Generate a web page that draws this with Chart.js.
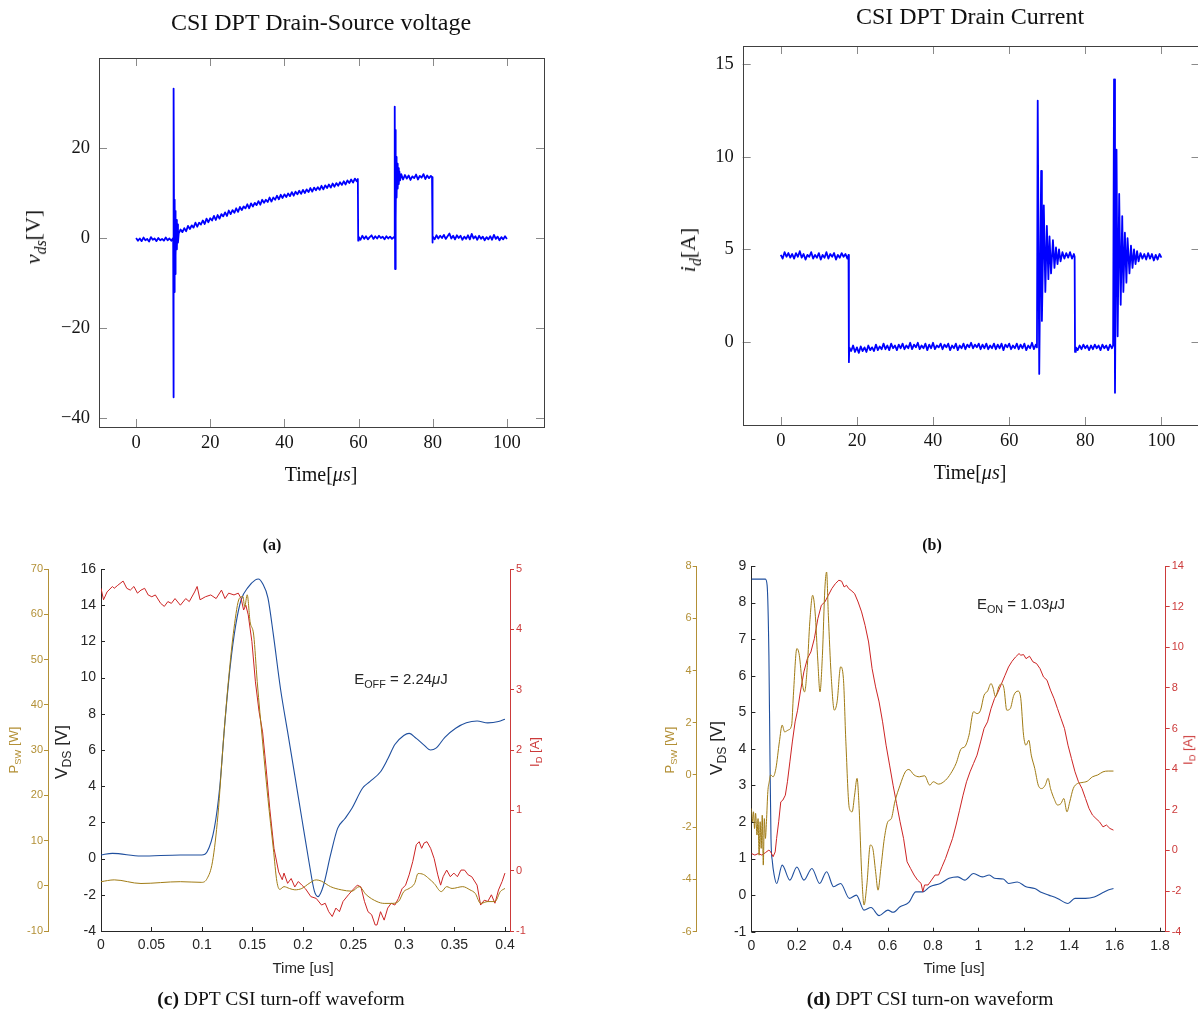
<!DOCTYPE html>
<html>
<head>
<meta charset="utf-8">
<title>CSI DPT waveforms</title>
<script src="https://cdn.jsdelivr.net/npm/chart.js@4.4.1/dist/chart.umd.min.js"></script>
<style>
  body { margin: 0; width: 1198px; height: 1012px; overflow: hidden; background: #fff; position: relative; }
  canvas { position: absolute; }
  .lbl { position: absolute; white-space: nowrap; line-height: 1; transform: translate(-50%, -50%); }
  .rot { transform: translate(-50%, -50%) rotate(-90deg); }
  .serif { font-family: 'Liberation Serif', 'Times New Roman', serif; color: #111; }
  .sans { font-family: 'Liberation Sans', Arial, sans-serif; color: #262626; }
  sub { font-size: 72%; vertical-align: baseline; position: relative; top: 0.35em; }
</style>
</head>
<body>
<canvas id="chartA" width="600" height="470" style="left:0;top:0"></canvas>
<canvas id="chartB" width="612" height="470" style="left:600px;top:0"></canvas>
<canvas id="chartC" width="600" height="440" style="left:0;top:540px"></canvas>
<canvas id="chartD" width="598" height="440" style="left:600px;top:540px"></canvas>

<div class="lbl serif" style="left:321px;top:22px;font-size:24px">CSI DPT Drain-Source voltage</div>
<div class="lbl serif" style="left:970px;top:16px;font-size:24px">CSI DPT Drain Current</div>
<div class="lbl serif rot" style="left:33px;top:237px;font-size:22px"><i>v<sub>ds</sub></i>[V]</div>
<div class="lbl serif" style="left:321px;top:474px;font-size:20px">Time[<i>μs</i>]</div>
<div class="lbl serif rot" style="left:688px;top:250px;font-size:22px"><i>i<sub>d</sub></i>[A]</div>
<div class="lbl serif" style="left:970px;top:472px;font-size:20px">Time[<i>μs</i>]</div>
<div class="lbl serif" style="left:272px;top:545px;font-size:16px;font-weight:bold">(a)</div>
<div class="lbl serif" style="left:932px;top:545px;font-size:16px;font-weight:bold">(b)</div>

<div class="lbl sans rot" style="left:14px;top:750px;font-size:13px;color:#b39036">P<sub>SW</sub> [W]</div>
<div class="lbl sans rot" style="left:61px;top:752px;font-size:17px">V<sub>DS</sub> [V]</div>
<div class="lbl sans rot" style="left:535px;top:752px;font-size:13px;color:#cc3a3a">I<sub>D</sub> [A]</div>
<div class="lbl sans" style="left:303px;top:967px;font-size:15px">Time [us]</div>
<div class="lbl sans" style="left:401px;top:678px;font-size:15px">E<sub>OFF</sub> = 2.24<i>μ</i>J</div>

<div class="lbl sans rot" style="left:670px;top:750px;font-size:13px;color:#b39036">P<sub>SW</sub> [W]</div>
<div class="lbl sans rot" style="left:716px;top:748px;font-size:17px">V<sub>DS</sub> [V]</div>
<div class="lbl sans rot" style="left:1188px;top:750px;font-size:13px;color:#cc3a3a">I<sub>D</sub> [A]</div>
<div class="lbl sans" style="left:954px;top:967px;font-size:15px">Time [us]</div>
<div class="lbl sans" style="left:1021px;top:603px;font-size:15px">E<sub>ON</sub> = 1.03<i>μ</i>J</div>

<div class="lbl serif" style="left:281px;top:999px;font-size:19.5px"><b>(c)</b> DPT CSI turn-off waveform</div>
<div class="lbl serif" style="left:930px;top:999px;font-size:19.5px"><b>(d)</b> DPT CSI turn-on waveform</div>

<script>
// ---- (a) drain-source voltage over the whole double pulse, [time us, volts]
const vdsTrace = [
  [0,0.0],[0.5,-0.6],[1,-0.1],[1.5,-0.7],[2,0.1],[2.5,-0.5],[3,-0.2],[3.5,-0.8],[4,0.2],[4.5,-0.4],
  [5,-0.1],[5.5,-0.7],[6,0.0],[6.5,-0.5],[7,-0.2],[7.5,-0.6],[8,0.1],[8.5,-0.5],[9,-0.1],[9.5,-0.6],[10,0.0],
  [10.05,9.0],[10.1,-35.4],[10.2,33.2],[10.3,-12.0],[10.4,8.5],[10.5,-8.0],[10.6,6.0],[10.7,-4.0],[10.85,4.0],
  [11,-2.5],[11.15,3.0],[11.3,-1.0],
  [11.5,1.0],[12,1.9],[12.5,1.3],[13,2.2],[13.5,1.5],[14,2.7],[14.5,2.0],[15,2.8],[15.5,2.3],[16,3.4],
  [16.5,2.5],[17,3.4],[17.5,3.0],[18,3.9],[18.5,3.1],[19,4.3],[19.5,3.5],[20,4.4],[20.5,3.9],[21,4.9],
  [21.5,4.0],[22,5.1],[22.5,4.3],[23,5.3],[23.5,4.8],[24,5.7],[24.5,4.9],[25,6.1],[25.5,5.3],[26,6.2],
  [26.5,5.6],[27,6.6],[27.5,5.8],[28,6.9],[28.5,6.2],[29,7.0],[29.5,6.6],[30,7.5],[30.5,6.6],[31,7.7],
  [31.5,7.0],[32,7.8],[32.5,7.3],[33,8.2],[33.5,7.4],[34,8.5],[34.5,7.8],[35,8.5],[35.5,8.0],[36,9.0],
  [36.5,8.1],[37,9.0],[37.5,8.5],[38,9.4],[38.5,8.6],[39,9.6],[39.5,8.9],[40,9.7],[40.5,9.1],[41,9.9],
  [41.5,9.3],[42,10.2],[42.5,9.4],[43,10.3],[43.5,9.7],[44,10.5],[44.5,9.8],[45,10.7],[45.5,10.0],[46,10.8],
  [46.5,10.2],[47,11.1],[47.5,10.3],[48,11.2],[48.5,10.6],[49,11.3],[49.5,10.7],[50,11.6],[50.5,10.8],[51,11.7],
  [51.5,11.1],[52,11.9],[52.5,11.2],[53,12.1],[53.5,11.4],[54,12.2],[54.5,11.6],[55,12.4],[55.5,11.8],[56,12.6],
  [56.5,11.9],[57,12.8],[57.5,12.2],[58,13.0],[58.5,12.3],[59,13.2],[59.5,12.6],[59.8,13.1],[59.9,-0.6],
  [60,0.3],[60.5,-0.4],[61,0.5],[61.5,-0.2],[62,0.4],[62.5,-0.3],[63,0.2],[63.5,0.6],[64,-0.2],[64.5,0.4],
  [65,-0.1],[65.5,0.5],[66,0.0],[66.5,0.3],[67,-0.3],[67.5,0.4],[68,-0.1],[68.5,0.3],[69,-0.2],[69.5,0.2],
  [69.7,0.0],[69.75,29.2],[69.85,-6.9],[69.95,24.0],[70.05,4.0],[70.15,18.0],[70.25,9.0],[70.4,16.5],
  [70.55,11.0],[70.7,15.5],[70.85,12.0],[71,14.8],[71.2,12.8],[71.5,14.2],
  [72,13.0],[72.5,14.0],[73,13.2],[73.5,13.9],[74,12.9],[74.5,13.7],[75,13.3],[75.5,14.1],[76,13.0],[76.5,13.8],
  [77,13.4],[77.5,14.2],[78,13.1],[78.5,13.9],[79,13.3],[79.5,13.8],[79.8,13.5],[79.9,-1.0],
  [80,0.4],[80.5,-0.3],[81,0.6],[81.5,-0.1],[82,0.5],[82.5,0.0],[83,0.7],[83.5,-0.2],[84,0.4],[84.5,1.0],
  [85,-0.1],[85.5,0.5],[86,-0.3],[86.5,0.6],[87,0.0],[87.5,0.5],[88,-0.4],[88.5,0.3],[89,-0.2],[89.5,0.6],
  [90,-0.3],[90.5,0.9],[91,-0.1],[91.5,0.4],[92,-0.4],[92.5,0.5],[93,-0.2],[93.5,0.3],[94,-0.5],[94.5,0.2],
  [95,-0.3],[95.5,0.4],[96,-0.4],[96.5,0.7],[97,-0.2],[97.5,0.3],[98,-0.5],[98.5,0.2],[99,-0.3],[99.5,0.4],[100,-0.2]
];
const vdsTimeTicks = [0, 20, 40, 60, 80, 100];
const vdsVoltTicks = [-40, -20, 0, 20];

// ---- (b) drain current, [time us, amps]
const idTrace = [
  [0,4.7],[0.5,4.5],[1,4.85],[1.5,4.6],[2,4.8],[2.5,4.55],[3,4.75],[3.5,4.5],[4,4.8],[4.5,4.6],
  [5,4.9],[5.5,4.55],[6,4.75],[6.5,4.45],[7,4.7],[7.5,4.6],[8,4.85],[8.5,4.5],[9,4.7],[9.5,4.55],
  [10,4.8],[10.5,4.45],[11,4.7],[11.5,4.55],[12,4.85],[12.5,4.5],[13,4.75],[13.5,4.6],[14,4.8],[14.5,4.45],
  [15,4.7],[15.5,4.55],[16,4.8],[16.5,4.6],[17,4.75],[17.5,4.5],[17.8,4.7],[17.9,-1.1],
  [18,-0.3],[18.5,-0.5],[19,-0.2],[19.5,-0.55],[20,-0.3],[20.5,-0.6],[21,-0.25],[21.5,-0.5],[22,-0.3],[22.5,-0.55],
  [23,-0.2],[23.5,-0.45],[24,-0.3],[24.5,-0.5],[25,-0.15],[25.5,-0.45],[26,-0.25],[26.5,-0.4],[27,-0.1],[27.5,-0.4],
  [28,-0.2],[28.5,-0.45],[29,-0.1],[29.5,-0.35],[30,-0.2],[30.5,-0.45],[31,-0.15],[31.5,-0.35],[32,-0.1],[32.5,-0.4],
  [33,-0.2],[33.5,-0.35],[34,-0.05],[34.5,-0.4],[35,-0.15],[35.5,-0.3],[36,-0.05],[36.5,-0.4],[37,-0.2],[37.5,-0.35],
  [38,-0.1],[38.5,-0.45],[39,-0.15],[39.5,-0.35],[40,-0.05],[40.5,-0.4],[41,-0.2],[41.5,-0.3],[42,-0.1],[42.5,-0.4],
  [43,-0.15],[43.5,-0.3],[44,-0.1],[44.5,-0.45],[45,-0.2],[45.5,-0.35],[46,-0.1],[46.5,-0.45],[47,-0.2],[47.5,-0.35],
  [48,-0.1],[48.5,-0.4],[49,-0.15],[49.5,-0.3],[50,-0.05],[50.5,-0.35],[51,-0.15],[51.5,-0.3],[52,-0.1],[52.5,-0.4],
  [53,-0.15],[53.5,-0.35],[54,-0.1],[54.5,-0.4],[55,-0.2],[55.5,-0.35],[56,-0.1],[56.5,-0.4],[57,-0.15],[57.5,-0.35],
  [58,-0.1],[58.5,-0.45],[59,-0.15],[59.5,-0.3],[60,-0.1],[60.5,-0.4],[61,-0.2],[61.5,-0.35],[62,-0.1],[62.5,-0.4],
  [63,-0.15],[63.5,-0.35],[64,-0.1],[64.5,-0.45],[65,-0.2],[65.5,-0.35],[66,-0.05],[66.5,-0.4],[67,-0.15],[67.3,-0.3],
  [67.5,13.05],[67.9,-1.74],[68.4,9.25],[68.6,1.13],[69.1,7.38],[69.5,2.7],[69.9,6.27],[70.3,3.39],[70.6,5.7],
  [71,3.7],[71.5,5.5],[71.9,4.0],[72.3,5.1],[72.7,4.2],[73.1,5.0],[73.5,4.35],[74,4.85],[74.5,4.5],[75,4.8],
  [75.5,4.55],[76,4.85],[76.5,4.5],[77,4.75],[77.2,4.6],[77.3,-0.55],
  [77.5,-0.3],[78,-0.45],[78.5,-0.2],[79,-0.4],[79.5,-0.15],[80,-0.35],[80.5,-0.2],[81,-0.45],[81.5,-0.2],[82,-0.4],
  [82.5,-0.15],[83,-0.35],[83.5,-0.2],[84,-0.45],[84.5,-0.15],[85,-0.35],[85.5,-0.2],[86,-0.45],[86.5,-0.15],[87,-0.35],[87.3,-0.2],
  [87.55,14.2],[87.8,-2.76],[88.2,10.4],[88.5,0.3],[88.9,8.0],[89.3,2.0],[89.7,6.8],[90,2.7],[90.4,5.9],[90.8,3.2],
  [91.1,5.6],[91.6,3.7],[92,5.2],[92.4,4.0],[92.8,5.0],[93.2,4.2],[93.6,4.9],[94,4.35],[94.5,4.8],[95,4.5],
  [95.5,4.75],[96,4.45],[96.5,4.8],[97,4.5],[97.5,4.75],[98,4.4],[98.5,4.7],[99,4.45],[99.5,4.75],[100,4.55]
];
const idTimeTicks = [0, 20, 40, 60, 80, 100];
const idAmpTicks = [0, 5, 10, 15];

// ---- (c) turn-off transition, [time us, value]
const offVds = [
  [0,0.2],[0.0113,0.29],[0.0396,0.14],[0.0786,0.2],[0.0998,0.2],[0.1051,0.38],[0.1122,1.67],[0.1175,3.9],
  [0.1228,7.6],[0.1281,10.7],[0.1334,12.9],[0.1388,14.3],[0.1458,15.0],[0.1529,15.4],[0.1558,15.45],[0.16,15.2],
  [0.1653,14.4],[0.1706,12.4],[0.1777,9.4],[0.1848,7.0],[0.1919,4.6],[0.1989,2.2],[0.206,-0.2],[0.2113,-1.8],
  [0.2149,-2.1],[0.2202,-1.5],[0.2273,0.2],[0.2343,1.67],[0.2414,2.2],[0.2485,2.78],[0.2591,3.9],[0.2662,4.25],
  [0.2768,4.8],[0.2839,5.5],[0.291,6.3],[0.2998,6.8],[0.3051,6.92],[0.3122,6.64],[0.3193,6.3],[0.3264,6.0],
  [0.3317,6.1],[0.3405,6.7],[0.3512,7.2],[0.3618,7.5],[0.3724,7.6],[0.383,7.5],[0.3936,7.57],[0.4,7.7]
];
const offPsw = [
  [0,0.9],[0.0131,1.3],[0.0396,0.5],[0.0786,0.9],[0.0998,0.75],[0.1051,1.6],[0.1104,5.3],[0.1158,15.6],
  [0.1211,31.8],[0.1264,45.8],[0.1317,56.9],[0.137,63.5],[0.1405,63.9],[0.1423,61.7],[0.1448,64.3],[0.1476,58.4],
  [0.1512,55.4],[0.1547,45.1],[0.16,31.8],[0.1653,19.3],[0.1706,8.3],[0.1742,0.9],[0.177,-0.8],[0.1812,-0.2],
  [0.1866,-0.6],[0.1919,-0.9],[0.1989,-0.6],[0.206,0.5],[0.2131,1.3],[0.2184,1.0],[0.2273,-0.2],[0.2379,-0.9],
  [0.2485,-1.2],[0.2556,-0.2],[0.2627,-2.0],[0.2733,-3.5],[0.2804,-3.9],[0.2874,-3.9],[0.2945,-3.5],[0.2998,-1.3],
  [0.3051,-0.6],[0.3105,0.5],[0.314,2.7],[0.3193,2.5],[0.3246,1.6],[0.3299,0.5],[0.337,-1.3],[0.3423,-0.2],
  [0.3476,-0.6],[0.3582,-0.2],[0.3653,-0.9],[0.3706,-1.7],[0.3759,-3.9],[0.383,-3.5],[0.3901,-3.5],[0.3954,-1.3],[0.4,-0.6]
];
const offId = [
  [0,4.68],[0.0025,4.49],[0.006,4.62],[0.0113,4.71],[0.0131,4.68],[0.0166,4.73],[0.0219,4.8],[0.0255,4.68],
  [0.029,4.65],[0.0326,4.71],[0.0361,4.6],[0.0396,4.65],[0.0432,4.68],[0.0467,4.57],[0.0503,4.54],[0.0538,4.57],
  [0.0591,4.43],[0.0627,4.38],[0.0662,4.46],[0.0697,4.43],[0.0733,4.51],[0.0786,4.4],[0.0839,4.51],[0.0874,4.46],
  [0.0927,4.62],[0.0952,4.71],[0.0981,4.49],[0.1034,4.54],[0.1087,4.57],[0.114,4.51],[0.1193,4.65],[0.1228,4.51],
  [0.1264,4.6],[0.1317,4.57],[0.1359,4.6],[0.1388,4.51],[0.1412,4.32],[0.1434,4.4],[0.1458,4.24],[0.1494,3.8],
  [0.1529,3.13],[0.1565,2.64],[0.16,2.3],[0.1635,1.7],[0.1671,1.03],[0.1713,0.37],[0.1759,-0.02],[0.1795,-0.15],
  [0.1812,-0.04],[0.1848,-0.21],[0.1883,-0.13],[0.1919,-0.27],[0.1954,-0.18],[0.1989,-0.24],[0.2025,-0.3],[0.2078,-0.43],
  [0.2131,-0.46],[0.2184,-0.57],[0.222,-0.54],[0.2255,-0.68],[0.229,-0.76],[0.2326,-0.62],[0.2361,-0.68],[0.2397,-0.51],
  [0.245,-0.4],[0.2503,-0.3],[0.2538,-0.24],[0.2574,-0.27],[0.2609,-0.51],[0.2644,-0.68],[0.268,-0.73],[0.2715,-0.9],
  [0.2733,-0.9],[0.2768,-0.68],[0.2804,-0.82],[0.2839,-0.62],[0.2874,-0.54],[0.291,-0.57],[0.2945,-0.46],[0.2981,-0.3],
  [0.3016,-0.24],[0.3051,-0.07],[0.3087,0.15],[0.3122,0.43],[0.3151,0.48],[0.3175,0.37],[0.32,0.46],[0.3228,0.48],
  [0.3264,0.37],[0.3299,0.2],[0.3335,-0.07],[0.3363,-0.24],[0.3388,-0.1],[0.3423,0.01],[0.3459,-0.1],[0.3494,-0.04],
  [0.3529,-0.1],[0.3565,0.01],[0.36,0.01],[0.3636,-0.07],[0.3671,-0.1],[0.3724,-0.24],[0.3759,-0.57],[0.3795,-0.49],
  [0.383,-0.51],[0.3866,-0.4],[0.3901,-0.54],[0.3936,-0.32],[0.3972,-0.18],[0.4,-0.04]
];
const offTimeTicks = [0, 0.05, 0.1, 0.15, 0.2, 0.25, 0.3, 0.35, 0.4];
const offVdsTicks = [-4, -2, 0, 2, 4, 6, 8, 10, 12, 14, 16];
const offPswTicks = [-10, 0, 10, 20, 30, 40, 50, 60, 70];
const offIdTicks = [-1, 0, 1, 2, 3, 4, 5];

// ---- (d) turn-on transition, [time us, value]
const onVds = [
  [0,8.64],[0.0616,8.64],[0.0693,8.47],[0.0771,6.56],[0.0817,3.83],[0.0863,1.55],[0.0925,0.91],[0.1002,0.55],
  [0.111,0.32],[0.1356,0.82],[0.1695,0.41],[0.2003,0.77],[0.2312,0.41],[0.2666,0.73],[0.3005,0.32],[0.3313,0.64],
  [0.3621,0.23],[0.393,0.32],[0.4315,-0.09],[0.4623,0.0],[0.4962,-0.41],[0.527,-0.34],[0.5625,-0.56],[0.601,-0.41],
  [0.6241,-0.47],[0.6549,-0.32],[0.6935,-0.2],[0.7243,0.09],[0.7551,0.09],[0.7859,0.23],[0.8321,0.32],[0.8707,0.46],
  [0.9092,0.5],[0.94,0.41],[0.9785,0.59],[1.0171,0.5],[1.0479,0.55],[1.071,0.46],[1.1095,0.44],[1.1326,0.32],
  [1.1712,0.36],[1.2097,0.23],[1.2482,0.18],[1.279,0.07],[1.3099,0.0],[1.3484,-0.09],[1.3946,-0.23],[1.4254,-0.09],
  [1.4717,-0.09],[1.5102,-0.05],[1.5487,0.07],[1.5718,0.14],[1.5949,0.18]
];
const onPsw = [
  [0,-1.28],[0.0046,-1.79],[0.0092,-1.41],[0.0139,-2.05],[0.0185,-1.47],[0.0247,-2.3],[0.0293,-1.67],[0.0339,-3.07],
  [0.0385,-1.79],[0.0431,-2.81],[0.0478,-1.54],[0.0524,-3.45],[0.057,-1.67],[0.0616,-2.43],[0.0663,-1.79],[0.0724,-0.64],
  [0.0786,-0.26],[0.0848,0.0],[0.0955,-0.07],[0.1079,0.25],[0.1233,1.27],[0.1356,1.91],[0.1464,1.65],[0.1618,1.72],
  [0.1772,1.91],[0.1849,3.05],[0.2003,4.84],[0.2111,4.58],[0.2234,3.56],[0.2342,3.18],[0.2466,4.2],[0.2573,5.86],
  [0.2697,6.88],[0.2805,6.24],[0.2928,4.33],[0.302,3.18],[0.3128,4.58],[0.3236,7.13],[0.3313,7.77],[0.339,6.11],
  [0.3513,3.82],[0.3652,2.48],[0.3775,2.8],[0.393,4.14],[0.4053,3.69],[0.4161,1.27],[0.4315,-1.28],[0.4438,-1.41],
  [0.4546,-0.77],[0.4654,-0.13],[0.4746,-1.28],[0.4854,-3.7],[0.4962,-4.98],[0.5085,-4.21],[0.5239,-2.68],[0.5347,-2.81],
  [0.5471,-3.7],[0.5578,-4.41],[0.5702,-3.58],[0.5856,-2.43],[0.601,-1.79],[0.6164,-1.67],[0.6318,-1.03],[0.6549,-0.39],
  [0.678,0.12],[0.6935,0.21],[0.7166,0.0],[0.7397,-0.07],[0.7628,-0.03],[0.7859,-0.39],[0.8013,-0.26],[0.8244,-0.35],
  [0.8553,-0.2],[0.8784,0.06],[0.9015,0.44],[0.9246,1.01],[0.94,1.08],[0.9585,1.52],[0.9785,2.42],[0.9939,2.35],
  [1.0094,2.48],[1.0248,3.05],[1.0402,3.21],[1.0556,3.5],[1.0633,3.37],[1.0756,2.99],[1.0895,3.37],[1.1018,3.5],
  [1.1126,3.31],[1.1249,2.48],[1.1403,2.54],[1.1558,3.05],[1.1742,3.21],[1.1866,2.93],[1.1989,1.52],[1.2097,1.14],
  [1.222,1.33],[1.2328,0.76],[1.2482,0.25],[1.2636,-0.39],[1.279,-0.52],[1.2944,-0.39],[1.3068,-0.13],[1.3176,-0.52],
  [1.333,-0.9],[1.3484,-1.15],[1.3638,-1.09],[1.3761,-0.9],[1.39,-1.41],[1.4023,-1.03],[1.4177,-0.52],[1.4362,-0.33],
  [1.4562,-0.29],[1.4794,-0.24],[1.5025,-0.07],[1.5256,0.0],[1.5487,0.12],[1.5718,0.15],[1.5949,0.15]
];
const onId = [
  [0,-0.15],[0.0154,-0.23],[0.0308,-0.15],[0.0462,-0.23],[0.0616,-0.11],[0.0771,0.02],[0.0848,-0.07],[0.0955,-0.31],
  [0.1048,-0.07],[0.111,0.59],[0.1202,1.41],[0.1294,2.39],[0.1387,2.48],[0.1495,2.72],[0.1587,3.38],[0.1695,4.36],
  [0.1803,5.34],[0.1926,6.33],[0.2034,6.9],[0.2157,7.8],[0.2312,8.79],[0.2466,9.44],[0.262,9.77],[0.2774,10.43],
  [0.2928,11.41],[0.3082,12.07],[0.3236,12.23],[0.339,12.56],[0.3544,12.89],[0.3698,13.13],[0.3853,13.3],[0.3976,13.25],
  [0.4084,12.97],[0.4191,13.05],[0.4284,12.89],[0.4392,12.8],[0.4546,12.64],[0.47,12.23],[0.4854,11.74],[0.5008,11.08],
  [0.5162,10.26],[0.5316,8.95],[0.5471,8.05],[0.5625,7.31],[0.5779,6.33],[0.5933,5.18],[0.6087,4.2],[0.6241,3.21],
  [0.6395,2.31],[0.6549,1.41],[0.6703,0.59],[0.6857,-0.56],[0.7012,-0.89],[0.7166,-1.21],[0.732,-1.46],[0.7474,-1.62],
  [0.7551,-2.03],[0.7628,-1.7],[0.7782,-1.7],[0.7936,-1.46],[0.809,-1.21],[0.8244,-1.21],[0.8398,-0.8],[0.8553,-0.39],
  [0.8707,0.1],[0.8861,0.59],[0.9015,1.25],[0.9169,1.98],[0.9323,2.72],[0.9477,3.38],[0.9631,3.87],[0.9785,4.28],
  [0.9939,4.69],[1.0094,5.34],[1.0248,6.0],[1.0402,6.33],[1.0556,6.98],[1.071,7.48],[1.0864,7.8],[1.1018,8.21],
  [1.1172,8.62],[1.1326,9.03],[1.1481,9.31],[1.1635,9.52],[1.1789,9.69],[1.1866,9.61],[1.1989,9.64],[1.2097,9.44],
  [1.2251,9.56],[1.2405,9.28],[1.2559,9.2],[1.2713,8.95],[1.2867,8.54],[1.3021,8.38],[1.3176,7.89],[1.333,7.48],
  [1.3484,6.98],[1.3638,6.49],[1.3792,6.0],[1.3946,5.18],[1.41,4.52],[1.4254,3.87],[1.4408,3.38],[1.4562,3.05],
  [1.4717,2.56],[1.4871,2.07],[1.5025,1.74],[1.5179,1.57],[1.5333,1.41],[1.5487,1.16],[1.5641,1.25],[1.5795,1.08],[1.5949,1.0]
];
const onTimeTicks = [0, 0.2, 0.4, 0.6, 0.8, 1, 1.2, 1.4, 1.6, 1.8];
const onVdsTicks = [-1, 0, 1, 2, 3, 4, 5, 6, 7, 8, 9];
const onPswTicks = [-6, -4, -2, 0, 2, 4, 6, 8];
const onIdTicks = [-4, -2, 0, 2, 4, 6, 8, 10, 12, 14];

// colours
const BLUE_A = '#0000ff';
const VDS_BLUE = '#1f4f9e';
const PSW_GOLD = '#a07b14';
const PSW_AXIS = '#b39036';
const ID_RED = '#cc2424';
const ID_AXIS = '#cc3a3a';
const INK = '#262626';

const pts = arr => arr.map(p => ({ x: p[0], y: p[1] }));
const fixTicks = list => scale => { scale.ticks = list.map(v => ({ value: v })); };
const minusFmt = v => (v < 0 ? '\u2212' + Math.abs(v) : String(v));

// inward tick marks (and optional full frame) drawn from the scales' own ticks
const axisTicks = {
  id: 'axisTicks',
  beforeDatasetsDraw(chart, args, opts) {
    const { ctx, chartArea: a } = chart;
    const xs = chart.scales.x;
    const ys = chart.scales[opts.yAxis];
    ctx.save();
    ctx.lineWidth = 1;
    ctx.strokeStyle = opts.color;
    ctx.beginPath();
    xs.ticks.forEach(t => {
      const p = Math.round(xs.getPixelForValue(t.value)) + 0.5;
      ctx.moveTo(p, a.bottom); ctx.lineTo(p, a.bottom - opts.len);
      if (opts.mirror) { ctx.moveTo(p, a.top); ctx.lineTo(p, a.top + opts.len); }
    });
    ys.ticks.forEach(t => {
      const p = Math.round(ys.getPixelForValue(t.value)) + 0.5;
      ctx.moveTo(a.left, p); ctx.lineTo(a.left + opts.len, p);
      if (opts.mirror) { ctx.moveTo(a.right, p); ctx.lineTo(a.right - opts.len, p); }
    });
    ctx.stroke();
    if (opts.box) {
      ctx.strokeStyle = opts.boxColor;
      ctx.strokeRect(Math.round(a.left) + 0.5, Math.round(a.top) + 0.5, Math.round(a.width), Math.round(a.height));
    }
    ctx.restore();
  }
};

const serifFont = { family: "'Liberation Serif', 'Times New Roman', serif", size: 18.5 };
const sansFont = size => ({ family: "'Liberation Sans', Arial, sans-serif", size: size });
const noGrid = { display: false, drawTicks: false };

function traceLine(data, color, width, smooth) {
  return {
    data: pts(data), borderColor: color, borderWidth: width, pointRadius: 0,
    borderJoinStyle: 'round', tension: 0, cubicInterpolationMode: smooth ? 'monotone' : 'default',
    fill: false
  };
}

// single-trace plot with a full frame (panels a and b)
function framedChart(id, trace, xr, yr, xTicks, yTicks, box) {
  new Chart(document.getElementById(id), {
    type: 'line',
    data: { datasets: [traceLine(trace, BLUE_A, 1.8, false)] },
    options: {
      responsive: false, animation: false, events: [],
      layout: { padding: { top: box.top, right: box.right, left: 0, bottom: 0 } },
      plugins: {
        legend: { display: false }, tooltip: { enabled: false },
        axisTicks: { yAxis: 'y', len: 8, color: '#8a8a8a', mirror: true, box: true, boxColor: '#404040' }
      },
      scales: {
        x: {
          type: 'linear', min: xr[0], max: xr[1], grid: noGrid, border: { display: false },
          afterBuildTicks: fixTicks(xTicks), afterFit: s => { s.height = box.xh; },
          ticks: { font: serifFont, color: '#151515', padding: 5, maxRotation: 0, autoSkip: false, callback: minusFmt }
        },
        y: {
          type: 'linear', min: yr[0], max: yr[1], grid: noGrid, border: { display: false },
          afterBuildTicks: fixTicks(yTicks), afterFit: s => { s.width = box.yw; },
          ticks: { font: serifFont, color: '#151515', padding: 9, autoSkip: false, callback: minusFmt }
        }
      }
    },
    plugins: [axisTicks]
  });
}

framedChart('chartA', vdsTrace, [-10, 110], [-42, 40], vdsTimeTicks, vdsVoltTicks,
  { top: 58, right: 56, xh: 43, yw: 99 });
framedChart('chartB', idTrace, [-10, 110], [-4.5, 16], idTimeTicks, idAmpTicks,
  { top: 46, right: 12.5, xh: 45, yw: 142.7 });

// three-axis switching waveform plot (panels c and d)
function switchingChart(id, s) {
  new Chart(document.getElementById(id), {
    type: 'line',
    data: {
      datasets: [
        Object.assign(traceLine(s.psw, PSW_GOLD, 1, true), { yAxisID: 'yP' }),
        Object.assign(traceLine(s.id, ID_RED, 1, false), { yAxisID: 'yI' }),
        Object.assign(traceLine(s.vds, VDS_BLUE, 1.1, true), { yAxisID: 'yV' })
      ]
    },
    options: {
      responsive: false, animation: false, events: [],
      layout: { padding: { top: s.top, right: 0, left: 0, bottom: 0 } },
      plugins: {
        legend: { display: false }, tooltip: { enabled: false },
        axisTicks: { yAxis: 'yV', len: 4, color: INK, mirror: false, box: false }
      },
      scales: {
        x: {
          type: 'linear', min: 0, max: s.xMax, grid: noGrid, border: { display: true, color: INK },
          afterBuildTicks: fixTicks(s.xTicks), afterFit: sc => { sc.height = s.xh; },
          ticks: { font: sansFont(14), color: INK, padding: 6, maxRotation: 0, autoSkip: false, callback: v => String(v) }
        },
        yV: {
          type: 'linear', position: 'left', weight: 0, min: s.vRange[0], max: s.vRange[1],
          grid: noGrid, border: { display: true, color: INK },
          afterBuildTicks: fixTicks(s.vTicks), afterFit: sc => { sc.width = s.vw; },
          ticks: { font: sansFont(14), color: INK, padding: 5, autoSkip: false, callback: v => String(v) }
        },
        yP: {
          type: 'linear', position: 'left', weight: 1, min: s.pRange[0], max: s.pRange[1],
          grid: { display: true, drawOnChartArea: false, drawTicks: true, tickLength: 4, color: PSW_AXIS },
          border: { display: true, color: PSW_AXIS },
          afterBuildTicks: fixTicks(s.pTicks), afterFit: sc => { sc.width = s.pw; },
          ticks: { font: sansFont(11), color: PSW_AXIS, padding: 1, autoSkip: false, callback: v => String(v) }
        },
        yI: {
          type: 'linear', position: 'right', min: s.iRange[0], max: s.iRange[1],
          grid: { display: true, drawOnChartArea: false, drawTicks: true, tickLength: 4, color: ID_AXIS },
          border: { display: true, color: ID_AXIS },
          afterBuildTicks: fixTicks(s.iTicks), afterFit: sc => { sc.width = s.iw; },
          ticks: { font: sansFont(11), color: ID_AXIS, padding: 2, autoSkip: false, callback: v => String(v) }
        }
      }
    },
    plugins: [axisTicks]
  });
}

switchingChart('chartC', {
  vds: offVds, psw: offPsw, id: offId,
  xMax: 0.405, xTicks: offTimeTicks,
  vRange: [-4, 16], vTicks: offVdsTicks,
  pRange: [-10, 70], pTicks: offPswTicks,
  iRange: [-1, 5], iTicks: offIdTicks,
  top: 29, xh: 49, vw: 53, pw: 48, iw: 90
});

switchingChart('chartD', {
  vds: onVds, psw: onPsw, id: onId,
  xMax: 1.825, xTicks: onTimeTicks,
  vRange: [-1, 9], vTicks: onVdsTicks,
  pRange: [-6, 8], pTicks: onPswTicks,
  iRange: [-4, 14], iTicks: onIdTicks,
  top: 26, xh: 48.3, vw: 54.7, pw: 96.7, iw: 32.3
});
</script>
</body>
</html>
